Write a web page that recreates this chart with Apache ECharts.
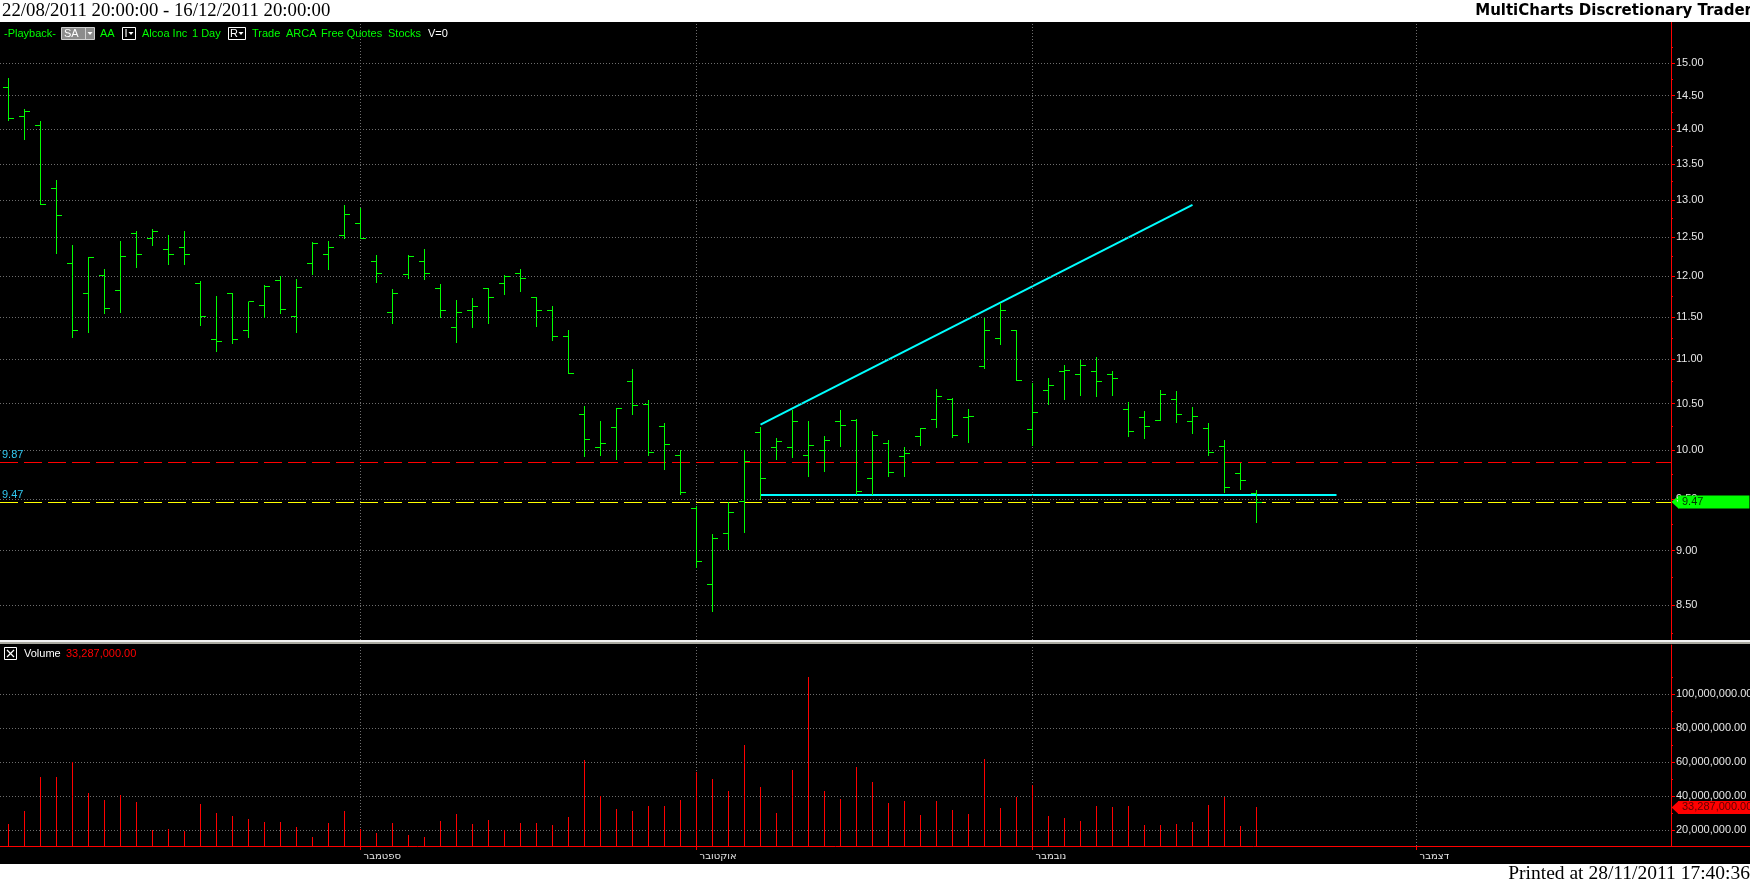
<!DOCTYPE html>
<html>
<head>
<meta charset="utf-8">
<script src="https://cdn.jsdelivr.net/npm/echarts@6/dist/echarts.min.js"></script>
<style>
html,body{margin:0;padding:0;background:#fff;}
#chart{width:1750px;height:884px;}
</style>
</head>
<body>
<div id="chart"></div>
<script>
// ---------------- DATA ----------------
const dates = [
  '2011-08-02','2011-08-03','2011-08-04','2011-08-05','2011-08-08','2011-08-09','2011-08-10','2011-08-11','2011-08-12',
  '2011-08-15','2011-08-16','2011-08-17','2011-08-18','2011-08-19','2011-08-22','2011-08-23','2011-08-24','2011-08-25',
  '2011-08-26','2011-08-29','2011-08-30','2011-08-31',
  '2011-09-01','2011-09-02','2011-09-06','2011-09-07','2011-09-08','2011-09-09','2011-09-12','2011-09-13','2011-09-14',
  '2011-09-15','2011-09-16','2011-09-19','2011-09-20','2011-09-21','2011-09-22','2011-09-23','2011-09-26','2011-09-27',
  '2011-09-28','2011-09-29','2011-09-30',
  '2011-10-03','2011-10-04','2011-10-05','2011-10-06','2011-10-07','2011-10-10','2011-10-11','2011-10-12','2011-10-13',
  '2011-10-14','2011-10-17','2011-10-18','2011-10-19','2011-10-20','2011-10-21','2011-10-24','2011-10-25','2011-10-26',
  '2011-10-27','2011-10-28','2011-10-31',
  '2011-11-01','2011-11-02','2011-11-03','2011-11-04','2011-11-07','2011-11-08','2011-11-09','2011-11-10','2011-11-11',
  '2011-11-14','2011-11-15','2011-11-16','2011-11-17','2011-11-18','2011-11-21'
];
const openPrices = [
  14.63,14.19,14.06,13.16,12.16,11.78,12.01,11.82,12.55,12.49,12.34,12.37,11.91,11.23,11.79,11.33,11.64,11.94,11.50,12.16,
  12.27,12.52,12.68,12.18,11.55,12.02,12.19,11.84,11.37,11.57,11.85,11.91,12.04,11.74,11.57,11.26,10.38,10.03,10.24,10.75,
  10.49,10.25,9.94,9.41,8.69,9.16,9.48,10.19,10.03,10.03,9.94,10.00,10.30,10.32,9.71,10.07,9.93,10.14,10.33,10.54,
  10.35,10.92,11.24,11.34,10.22,10.65,10.86,10.82,10.86,10.83,10.43,10.35,10.32,10.54,10.30,10.23,10.04,9.76,9.56
];
const highPrices = [
  14.77,14.30,14.12,13.27,12.40,12.24,12.09,12.45,12.58,12.61,12.53,12.58,11.94,11.75,11.79,11.68,11.89,12.00,11.96,12.44,
  12.45,12.93,12.89,12.27,11.84,12.27,12.35,11.90,11.70,11.73,11.85,12.01,12.09,11.74,11.63,11.34,10.47,10.31,10.45,10.89,
  10.54,10.29,10.00,9.43,9.16,9.47,10.00,10.25,10.13,10.43,10.31,10.15,10.43,10.33,10.20,10.11,10.03,10.23,10.66,10.56,
  10.44,11.49,11.67,11.34,10.73,10.79,10.93,10.99,11.03,10.87,10.52,10.42,10.65,10.64,10.46,10.29,10.11,9.87,9.59
];
const lowPrices = [
  14.14,13.85,12.94,12.29,11.26,11.32,11.54,11.56,12.11,12.40,12.15,12.15,11.40,11.10,11.19,11.26,11.50,11.54,11.32,12.03,
  12.09,12.49,12.49,11.93,11.43,11.98,11.96,11.50,11.20,11.38,11.42,11.78,11.82,11.39,11.22,10.84,9.94,9.95,9.91,10.39,
  9.95,9.80,9.55,8.85,8.45,9.02,9.18,9.50,9.91,9.93,9.73,9.78,10.04,9.55,9.55,9.73,9.73,10.05,10.25,10.14,
  10.09,10.90,11.18,10.76,10.05,10.50,10.55,10.60,10.58,10.59,10.15,10.13,10.32,10.30,10.18,9.95,9.57,9.60,9.27
];
const closePrices = [
  14.16,14.26,12.94,12.79,11.33,12.24,11.60,12.25,12.27,12.57,12.27,12.27,11.50,11.21,11.23,11.68,11.87,11.59,11.86,12.42,
  12.36,12.80,12.49,12.04,11.78,12.25,12.04,11.58,11.55,11.63,11.74,11.99,11.97,11.58,11.26,10.84,10.11,10.07,10.45,10.48,
  9.97,10.06,9.57,8.90,9.12,9.37,9.88,9.71,10.09,10.30,10.05,10.10,10.26,9.58,10.15,9.77,9.96,10.23,10.58,10.15,
  10.36,11.34,11.57,10.76,10.40,10.70,10.87,10.93,10.75,10.78,10.20,10.25,10.60,10.38,10.36,9.97,9.62,9.69,9.47
];
const volumes = [
  23700000,31400000,51400000,51400000,60000000,42000000,37800000,40800000,36700000,20200000,20800000,19600000,35500000,
  30200000,28400000,26700000,24900000,24900000,22000000,16100000,24300000,31400000,20400000,18400000,24300000,17300000,
  16100000,25500000,29600000,23700000,26100000,20200000,24300000,24300000,23100000,27800000,61400000,40200000,32500000,
  31400000,34300000,34300000,37800000,54300000,50200000,43100000,70200000,45500000,30200000,55500000,110200000,43100000,
  38400000,57300000,48400000,36100000,37300000,29000000,37300000,32000000,29600000,62000000,33100000,39600000,46700000,
  28400000,27300000,25500000,34300000,33700000,34300000,23100000,23100000,23700000,24900000,34900000,39600000,22500000,
  33287000
];
const priceGridValues = [8.5, 9, 9.5, 10, 10.5, 11, 11.5, 12, 12.5, 13, 13.5, 14, 14.5, 15];
const priceMinorTicks = [8.25, 8.75, 9.25, 9.75, 10.25, 10.75, 11.25, 11.75, 12.25, 12.75, 13.25, 13.75, 14.25, 14.75, 15.25];
const volumeGridValues = [20000000, 40000000, 60000000, 80000000, 100000000];
const volumeMinorTicks = [30000000, 50000000, 70000000, 90000000, 110000000];
const monthStartIndex = [22, 43, 64, 88];
const monthNames = ['ספטמבר', 'אוקטובר', 'נובמבר', 'דצמבר'];
const trendLineUp = [[47, 10.27], [74, 12.93]];
const supportLine = [[47, 9.54], [83, 9.54]];
const resistanceLevel = 9.87;
const supportLevel = 9.47;
const lastPrice = 9.47;
const lastVolume = 33287000;

// ---------------- LAYOUT ----------------
const X_MIN = -0.53125, X_MAX = 103.90625;
const P_MIN = 8.1953, P_MAX = 15.6636;
const V_MIN = 10600000, V_MAX = 128840000;
const GREEN = '#00ff00', RED = '#ff0000', CYAN = '#00ffff', GRIDC = '#6e6e6e';
const FONT = '"Liberation Sans", Arial, sans-serif';

const fmtVol = v => Number(v).toLocaleString('en-US', {minimumFractionDigits: 2, maximumFractionDigits: 2});
const crisp = v => Math.round(v - 0.5) + 0.5;

const ohlcData = dates.map((d, i) => [i, openPrices[i], highPrices[i], lowPrices[i], closePrices[i], d]);
const volData = dates.map((d, i) => [i, volumes[i], d]);

const chart = echarts.init(document.getElementById('chart'));

const makeX = (gi) => ({
  type: 'value', gridIndex: gi, min: X_MIN, max: X_MAX, show: gi === 1,
  axisLine: {show: gi === 1, onZero: false, lineStyle: {color: RED, width: 1}},
  axisTick: {show: gi === 1, customValues: monthStartIndex, length: 4, inside: false, lineStyle: {color: RED}},
  axisLabel: {show: gi === 1, customValues: monthStartIndex, margin: 5, align: 'left', padding: [0, 0, 0, 3],
    color: '#e6e6e6', fontSize: 10, fontFamily: '"DejaVu Sans", sans-serif',
    formatter: v => { const k = monthStartIndex.indexOf(Math.round(v)); return k >= 0 ? monthNames[k] : ''; }},
  splitLine: {show: false}
});

const option = {
  backgroundColor: '#000',
  animation: false,
  grid: [
    {left: 0, right: 79, top: 22, height: 618},
    {left: 0, right: 79, top: 645, height: 201}
  ],
  xAxis: [makeX(0), makeX(1)],
  yAxis: [
    {type: 'log', gridIndex: 0, min: P_MIN, max: P_MAX, position: 'right',
     axisLine: {show: true, onZero: false, lineStyle: {color: RED, width: 1}},
     axisTick: {show: true, customValues: priceGridValues, length: 4, lineStyle: {color: RED}},
     axisLabel: {show: false}, splitLine: {show: false}},
    {type: 'value', gridIndex: 1, min: V_MIN, max: V_MAX, position: 'right',
     axisLine: {show: true, onZero: false, lineStyle: {color: RED, width: 1}},
     axisTick: {show: true, customValues: volumeGridValues, length: 4, lineStyle: {color: RED}},
     axisLabel: {show: false}, splitLine: {show: false}},
    {type: 'log', gridIndex: 0, min: P_MIN, max: P_MAX, position: 'right',
     axisLine: {show: false, onZero: false},
     axisTick: {show: true, customValues: priceMinorTicks, length: 2, lineStyle: {color: RED}},
     axisLabel: {show: false}, splitLine: {show: false}},
    {type: 'value', gridIndex: 1, min: V_MIN, max: V_MAX, position: 'right',
     axisLine: {show: false, onZero: false},
     axisTick: {show: true, customValues: volumeMinorTicks, length: 2, lineStyle: {color: RED}},
     axisLabel: {show: false}, splitLine: {show: false}}
  ],
  series: [
    { // price grid + axis labels
      name: 'priceGrid', type: 'line', xAxisIndex: 0, yAxisIndex: 0, data: [], silent: true, z: 1,
      markLine: {
        silent: true, symbol: ['none', 'none'], animation: false,
        lineStyle: {color: GRIDC, type: [1, 2], width: 1},
        label: {show: true, position: 'end', distance: 5, color: '#e6e6e6', fontSize: 11, fontFamily: FONT,
          formatter: p => Number(p.value).toFixed(2)},
        data: priceGridValues.map(v => ({yAxis: v}))
          .concat(monthStartIndex.map(v => ({xAxis: v, label: {show: false}})))
      }
    },
    { // level lines
      name: 'levels', type: 'line', xAxisIndex: 0, yAxisIndex: 0, data: [], silent: true, z: 3,
      markLine: {
        silent: true, symbol: ['none', 'none'], animation: false,
        label: {show: true, position: 'insideStartTop', distance: 2, color: '#30c8f0', fontSize: 11, fontFamily: FONT,
          formatter: p => Number(p.value).toFixed(2)},
        data: [
          {yAxis: resistanceLevel, lineStyle: {color: RED, type: [18, 6], width: 1}},
          {yAxis: supportLevel, lineStyle: {color: '#ffff00', type: [18, 6], width: 1}}
        ]
      }
    },
    {
      name: 'trendUp', type: 'line', xAxisIndex: 0, yAxisIndex: 0, data: trendLineUp, symbol: 'none',
      lineStyle: {color: CYAN, width: 2}, silent: true, z: 4
    },
    {
      name: 'support', type: 'line', xAxisIndex: 0, yAxisIndex: 0, data: supportLine, symbol: 'none',
      lineStyle: {color: CYAN, width: 2}, silent: true, z: 4
    },
    {
      name: 'AA', type: 'custom', xAxisIndex: 0, yAxisIndex: 0, data: ohlcData, z: 5,
      encode: {x: 0, y: [1, 2, 3, 4]},
      renderItem: (params, api) => {
        const i = api.value(0);
        const pO = api.coord([i, api.value(1)]);
        const pH = api.coord([i, api.value(2)]);
        const pL = api.coord([i, api.value(3)]);
        const pC = api.coord([i, api.value(4)]);
        const x = crisp(pH[0]);
        const st = {stroke: GREEN, lineWidth: 1, fill: null};
        return {type: 'group', children: [
          {type: 'line', shape: {x1: x, y1: Math.round(pH[1]), x2: x, y2: Math.round(pL[1]) + 1}, style: st},
          {type: 'line', shape: {x1: x - 5.5, y1: crisp(pO[1]), x2: x, y2: crisp(pO[1])}, style: st},
          {type: 'line', shape: {x1: x, y1: crisp(pC[1]), x2: x + 5.5, y2: crisp(pC[1])}, style: st}
        ]};
      }
    },
    { // last price tag
      name: 'lastPrice', type: 'line', xAxisIndex: 0, yAxisIndex: 0, data: [], silent: true, z: 20,
      markLine: {
        silent: true, symbol: ['none', 'none'], animation: false,
        lineStyle: {color: 'rgba(0,0,0,0)', width: 0},
        label: {show: true, position: 'end', distance: 7, backgroundColor: GREEN, color: '#003300',
          padding: [1, 46, 1, 4], fontSize: 11, lineHeight: 11, fontFamily: FONT,
          formatter: () => lastPrice.toFixed(2)},
        data: [{yAxis: lastPrice}]
      },
      markPoint: {
        silent: true, symbol: 'path://M0,5L7,0L7,10Z', symbolSize: [7, 13], symbolOffset: [4, 0],
        itemStyle: {color: GREEN}, label: {show: false},
        data: [{coord: [X_MAX, lastPrice]}]
      }
    },
    { // volume grid
      name: 'volGrid', type: 'line', xAxisIndex: 1, yAxisIndex: 1, data: [], silent: true, z: 1,
      markLine: {
        silent: true, symbol: ['none', 'none'], animation: false,
        lineStyle: {color: GRIDC, type: [1, 2], width: 1},
        label: {show: true, position: 'end', distance: 5, color: '#e6e6e6', fontSize: 11, fontFamily: FONT,
          formatter: p => fmtVol(p.value)},
        data: volumeGridValues.map(v => ({yAxis: v}))
          .concat(monthStartIndex.map(v => ({xAxis: v, label: {show: false}})))
      }
    },
    {
      name: 'Volume', type: 'custom', xAxisIndex: 1, yAxisIndex: 1, data: volData, z: 5,
      encode: {x: 0, y: 1},
      renderItem: (params, api) => {
        const i = api.value(0);
        const top = api.coord([i, api.value(1)]);
        const base = params.coordSys.y + params.coordSys.height;
        const x = crisp(top[0]);
        return {type: 'line', shape: {x1: x, y1: base, x2: x, y2: Math.round(top[1])},
          style: {stroke: RED, lineWidth: 1, fill: null}};
      }
    },
    { // last volume tag
      name: 'lastVolume', type: 'line', xAxisIndex: 1, yAxisIndex: 1, data: [], silent: true, z: 20,
      markLine: {
        silent: true, symbol: ['none', 'none'], animation: false,
        lineStyle: {color: 'rgba(0,0,0,0)', width: 0},
        label: {show: true, position: 'end', distance: 7, backgroundColor: RED, color: '#5a0000',
          padding: [1, 4, 1, 4], fontSize: 11, lineHeight: 11, fontFamily: FONT,
          formatter: () => fmtVol(lastVolume)},
        data: [{yAxis: lastVolume}]
      },
      markPoint: {
        silent: true, symbol: 'path://M0,5L7,0L7,10Z', symbolSize: [7, 13], symbolOffset: [4, 0],
        itemStyle: {color: RED}, label: {show: false},
        data: [{coord: [X_MAX, lastVolume]}]
      }
    }
  ],
  graphic: [
    // header / footer bands
    {type: 'rect', z: 100, shape: {x: 0, y: 0, width: 1750, height: 22}, style: {fill: '#fff'}},
    {type: 'rect', z: 100, shape: {x: 0, y: 864, width: 1750, height: 20}, style: {fill: '#fff'}},
    {type: 'text', z: 101, x: 2, y: 11, style: {text: '22/08/2011 20:00:00 - 16/12/2011 20:00:00',
      font: '18.8px "Liberation Serif", serif', fill: '#000', align: 'left', verticalAlign: 'middle'}},
    {type: 'text', z: 101, x: 1752, y: 11, style: {text: 'MultiCharts Discretionary Trader',
      font: 'bold 15px "DejaVu Sans", sans-serif', fill: '#000', align: 'right', verticalAlign: 'middle'}},
    {type: 'text', z: 101, x: 1750, y: 874, style: {text: 'Printed at 28/11/2011 17:40:36',
      font: '19.5px "Liberation Serif", serif', fill: '#000', align: 'right', verticalAlign: 'middle'}},
    // panel separator
    {type: 'rect', z: 100, shape: {x: 0, y: 640, width: 1750, height: 2}, style: {fill: '#f2f2f2'}},
    {type: 'rect', z: 100, shape: {x: 0, y: 642, width: 1750, height: 2}, style: {fill: '#a9a9a0'}},
    // volume axis extension to the right edge
    {type: 'line', z: 100, shape: {x1: 1671, y1: 846.5, x2: 1750, y2: 846.5}, style: {stroke: RED, lineWidth: 1}},
    // price legend
    {type: 'text', z: 101, x: 4, y: 33.5, style: {text: '-Playback-', font: '11px ' + FONT, fill: GREEN, verticalAlign: 'middle'}},
    {type: 'rect', z: 101, shape: {x: 61.5, y: 27.5, width: 33, height: 12}, style: {fill: '#8c8c8c', stroke: '#d0d0d0', lineWidth: 1}},
    {type: 'line', z: 102, shape: {x1: 85.5, y1: 28, x2: 85.5, y2: 39}, style: {stroke: '#d0d0d0', lineWidth: 1}},
    {type: 'text', z: 102, x: 64, y: 34, style: {text: 'SA', font: '11px ' + FONT, fill: '#fff', verticalAlign: 'middle'}},
    {type: 'polygon', z: 102, shape: {points: [[87.5, 32], [92.5, 32], [90, 35]]}, style: {fill: '#fff'}},
    {type: 'text', z: 101, x: 100, y: 33.5, style: {text: 'AA', font: '11px ' + FONT, fill: GREEN, verticalAlign: 'middle'}},
    {type: 'rect', z: 101, shape: {x: 122.5, y: 27.5, width: 13, height: 12}, style: {fill: '#000', stroke: '#fff', lineWidth: 1}},
    {type: 'text', z: 102, x: 124.5, y: 34, style: {text: 'I', font: '11px ' + FONT, fill: '#fff', verticalAlign: 'middle'}},
    {type: 'polygon', z: 102, shape: {points: [[128.5, 32], [133.5, 32], [131, 35]]}, style: {fill: '#fff'}},
    {type: 'text', z: 101, x: 142, y: 33.5, style: {text: 'Alcoa Inc', font: '11px ' + FONT, fill: GREEN, verticalAlign: 'middle'}},
    {type: 'text', z: 101, x: 192, y: 33.5, style: {text: '1 Day', font: '11px ' + FONT, fill: GREEN, verticalAlign: 'middle'}},
    {type: 'rect', z: 101, shape: {x: 228.5, y: 27.5, width: 17, height: 12}, style: {fill: '#000', stroke: '#fff', lineWidth: 1}},
    {type: 'text', z: 102, x: 230, y: 34, style: {text: 'R', font: '11px ' + FONT, fill: '#fff', verticalAlign: 'middle'}},
    {type: 'polygon', z: 102, shape: {points: [[238.5, 32], [243.5, 32], [241, 35]]}, style: {fill: '#fff'}},
    {type: 'text', z: 101, x: 252, y: 33.5, style: {text: 'Trade', font: '11px ' + FONT, fill: GREEN, verticalAlign: 'middle'}},
    {type: 'text', z: 101, x: 286, y: 33.5, style: {text: 'ARCA', font: '11px ' + FONT, fill: GREEN, verticalAlign: 'middle'}},
    {type: 'text', z: 101, x: 321, y: 33.5, style: {text: 'Free Quotes', font: '11px ' + FONT, fill: GREEN, verticalAlign: 'middle'}},
    {type: 'text', z: 101, x: 388, y: 33.5, style: {text: 'Stocks', font: '11px ' + FONT, fill: GREEN, verticalAlign: 'middle'}},
    {type: 'text', z: 101, x: 428, y: 33.5, style: {text: 'V=0', font: '11px ' + FONT, fill: '#fff', verticalAlign: 'middle'}},
    // volume legend
    {type: 'rect', z: 101, shape: {x: 4.5, y: 647.5, width: 12, height: 12}, style: {fill: '#000', stroke: '#fff', lineWidth: 1}},
    {type: 'line', z: 102, shape: {x1: 7, y1: 650, x2: 14, y2: 657}, style: {stroke: '#fff', lineWidth: 1.2}},
    {type: 'line', z: 102, shape: {x1: 14, y1: 650, x2: 7, y2: 657}, style: {stroke: '#fff', lineWidth: 1.2}},
    {type: 'text', z: 101, x: 24, y: 653.5, style: {text: 'Volume', font: '11px ' + FONT, fill: '#fff', verticalAlign: 'middle'}},
    {type: 'text', z: 101, x: 66, y: 653.5, style: {text: fmtVol(lastVolume), font: '11px ' + FONT, fill: RED, verticalAlign: 'middle'}}
  ]
};
chart.setOption(option);
</script>
</body>
</html>
